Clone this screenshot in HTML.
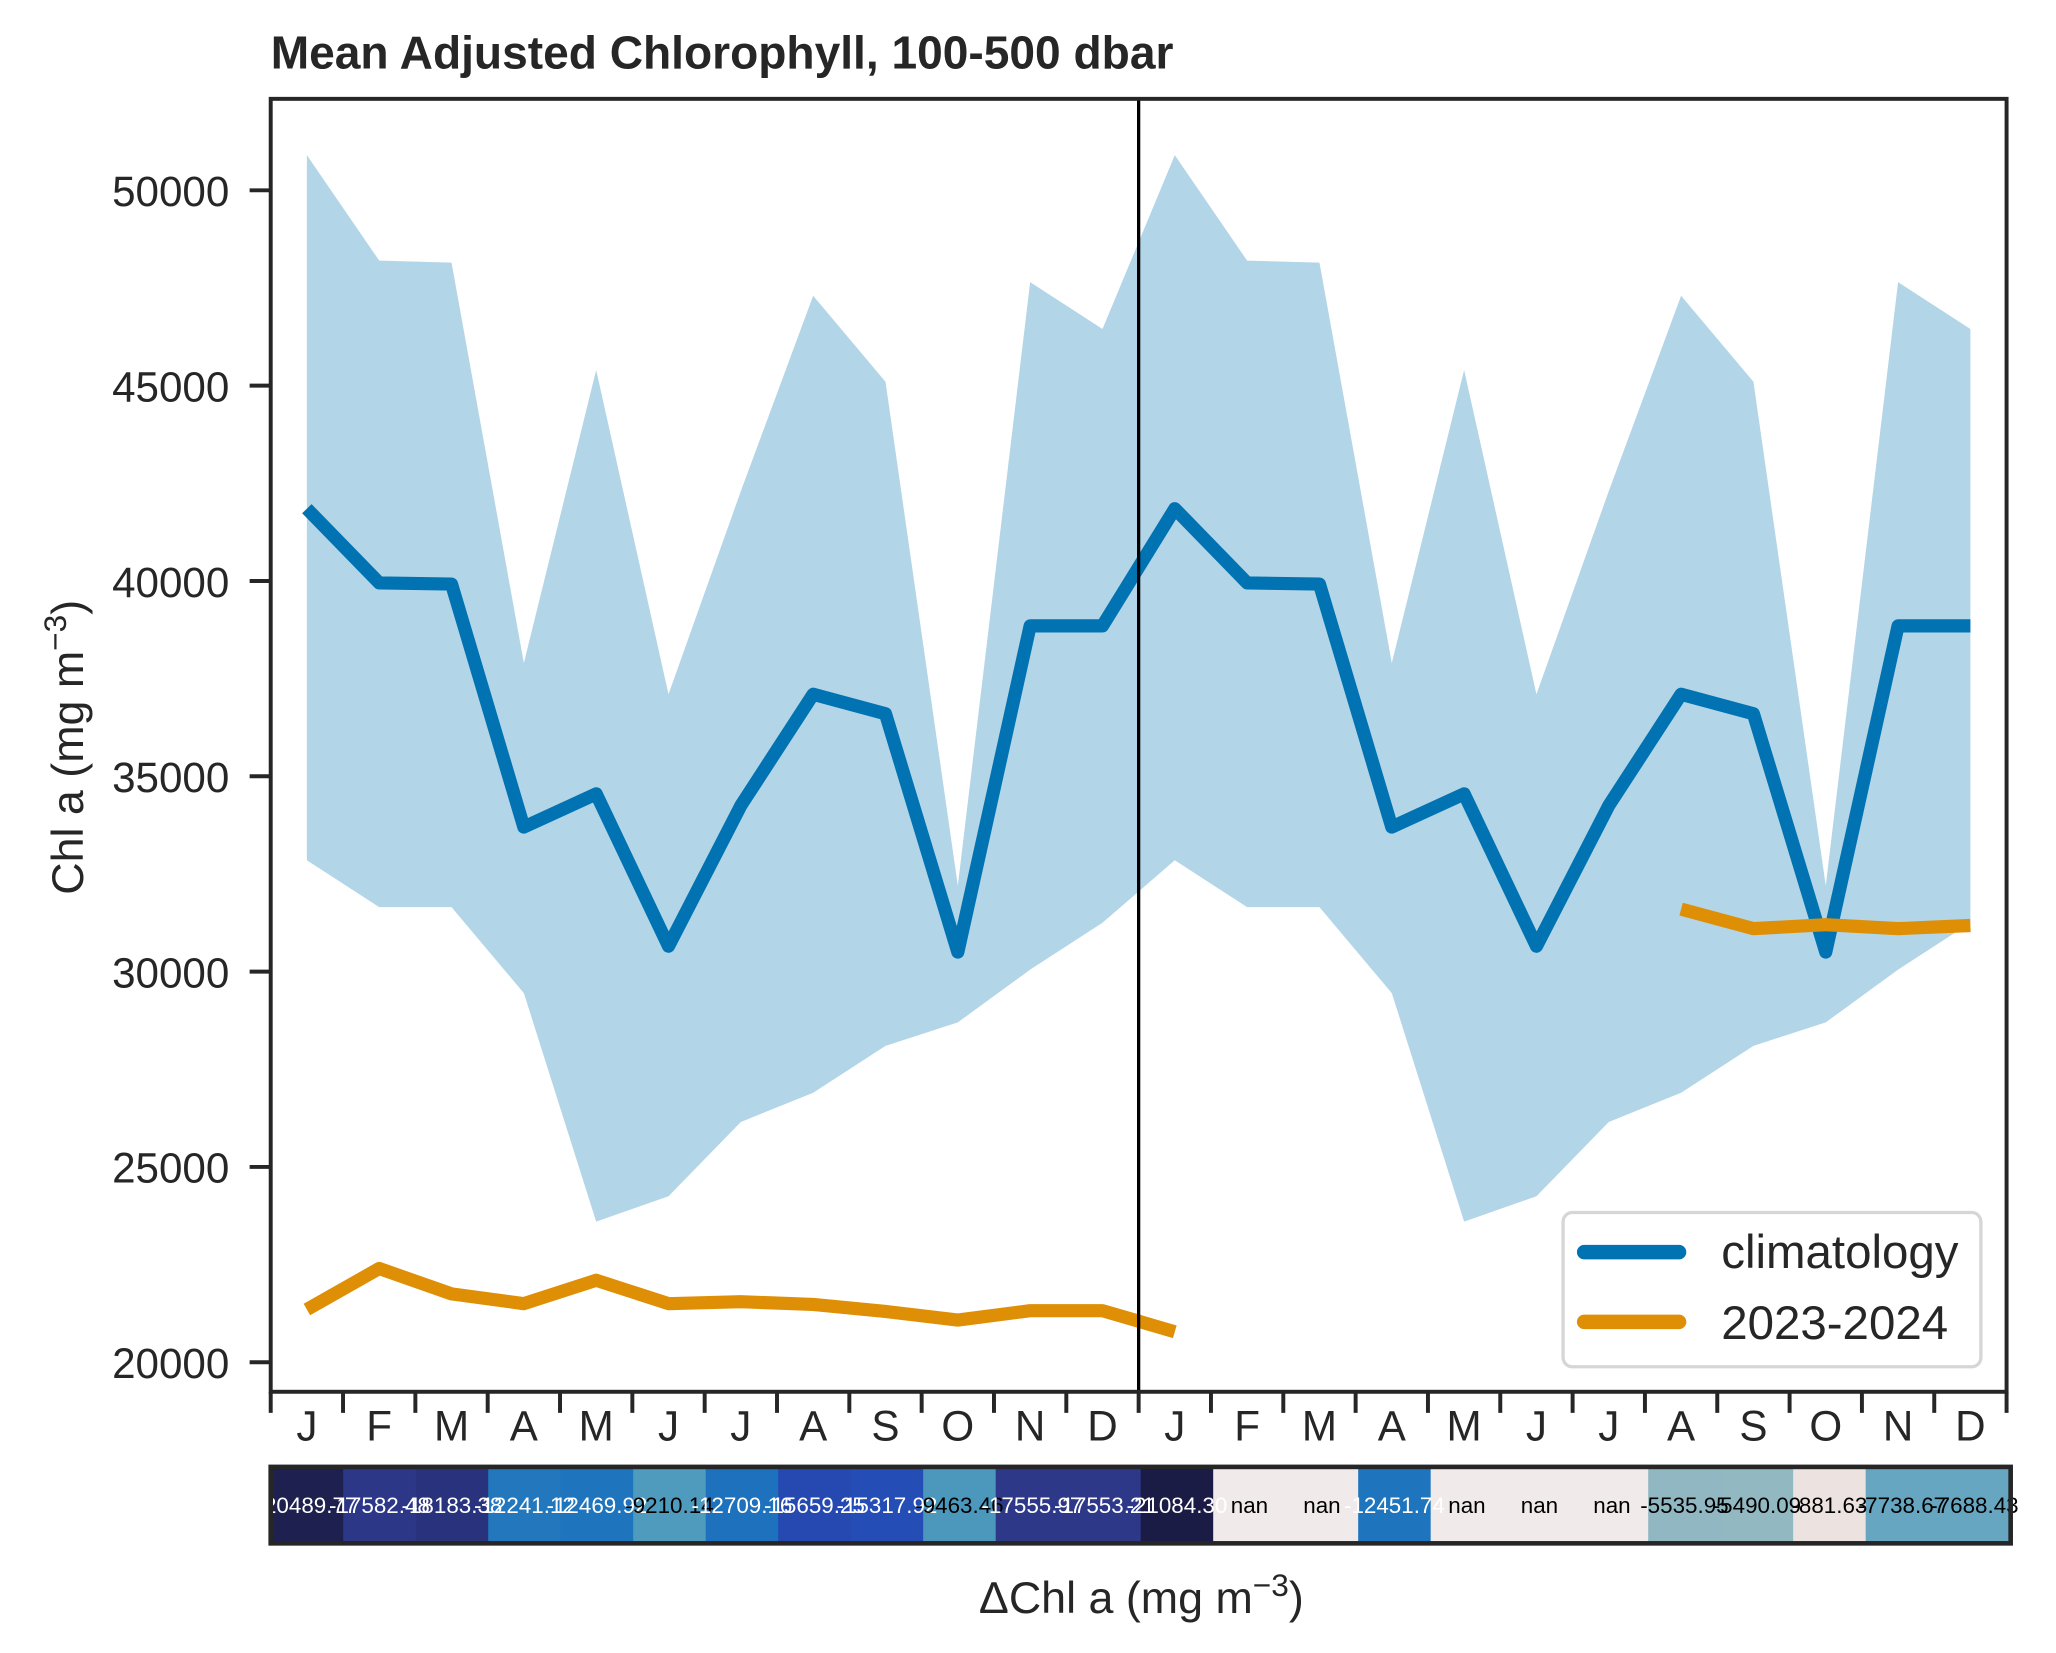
<!DOCTYPE html>
<html><head><meta charset="utf-8"><title>Mean Adjusted Chlorophyll</title>
<style>
html,body{margin:0;padding:0;background:#fff;}
svg{display:block;font-family:"Liberation Sans",Arial,sans-serif;}
</style></head>
<body>
<svg id="chart" xmlns="http://www.w3.org/2000/svg" width="2056" height="1653" viewBox="0 0 1560 1254.2" preserveAspectRatio="none">
<rect x="0" y="0" width="1560" height="1254.2" fill="#fff"/>
<g id="plot"></g>
</svg>
<script>
const months = ["J","F","M","A","M","J","J","A","S","O","N","D"];
const climMean = [41850,39950,39920,33700,34550,30650,34250,37100,36600,30500,38850,38850];
const climUpper = [50900,48200,48150,37900,45400,37100,42300,47300,45100,32200,47650,46450];
const climLower = [32850,31650,31650,29450,23600,24250,26150,26900,28100,28700,30050,31250];
const obs = [21350,22400,21750,21500,22100,21500,21550,21480,21300,21080,21320,21320,20780,null,null,null,null,null,null,31600,31100,31200,31100,31180];
const deltaVals = [-20489.77,-17582.48,-18183.38,-12241.12,-12469.92,-9210.14,-12709.16,-15659.25,-15317.92,-9463.46,-17555.97,-17553.21,-21084.30,null,null,-12451.74,null,null,null,-5535.95,-5490.09,-881.63,-7738.67,-7688.43];
const yTicks = [20000,25000,30000,35000,40000,45000,50000];

const NS="http://www.w3.org/2000/svg";
const L=205.4,R=1522.5,T=75,B=1056;
const N=24, cw=(R-L)/N;
function xs(i){return L+(i+0.5)*cw;}
function ys(v){return 1033.6-(v-20000)/5000*148.2;}
function el(tag,attrs,parent){const e=document.createElementNS(NS,tag);for(const k in attrs)e.setAttribute(k,attrs[k]);(parent||g).appendChild(e);return e;}
const g=document.getElementById('plot');

function colorFor(v){
  if(v===null) return "#f0eaea";
  const stops=[[-21000,[27,28,69]],[-17500,[45,56,138]],[-15500,[36,74,180]],[-12500,[30,116,189]],[-9300,[78,154,189]],[-7700,[103,166,192]],[-5500,[146,184,194]],[-900,[236,227,224]]];
  if(v<=stops[0][0]) return "rgb("+stops[0][1]+")";
  for(let i=1;i<stops.length;i++){ if(v<=stops[i][0]){const a=stops[i-1],b=stops[i];const t=(v-a[0])/(b[0]-a[0]);return "rgb("+a[1].map((c,j)=>Math.round(c+(b[1][j]-c)*t)).join(",")+")";}}
  return "rgb(236,227,224)";
}

const up=[],lo=[];
for(let i=0;i<N;i++){up.push([xs(i),ys(climUpper[i%12])]);lo.push([xs(i),ys(climLower[i%12])]);}
const band=el('polygon',{points:up.concat(lo.reverse()).map(p=>p.join(',')).join(' '),fill:"#b3d5e8"});



const cl=el('polyline',{points:climMean.concat(climMean).map((v,i)=>xs(i)+','+ys(v)).join(' '),fill:"none",stroke:"#0173b2","stroke-width":10,"stroke-linejoin":"round"});



let seg=[];
function flush(){ if(seg.length>1){const o=el('polyline',{points:seg.join(' '),fill:"none",stroke:"#de8f05","stroke-width":10,"stroke-linejoin":"round"});

} seg=[];}
obs.forEach((v,i)=>{ if(v===null) flush(); else seg.push(xs(i)+','+ys(v)); }); flush();

const vl=el('line',{x1:L+12*cw,x2:L+12*cw,y1:T,y2:B,stroke:"#000","stroke-width":2.5});



const fr=el('rect',{x:L,y:T,width:R-L,height:B-T,fill:"none",stroke:"#262626","stroke-width":3});



yTicks.forEach(v=>{
  const t=el('line',{x1:L-16,x2:L,y1:ys(v),y2:ys(v),stroke:"#262626","stroke-width":3});
  
  
  const tx=el('text',{x:174,y:ys(v)+12,"text-anchor":"end","font-size":32,fill:"#262626"});
  tx.textContent=v;
  
  
});
for(let i=0;i<=N;i++){
  const t=el('line',{x1:L+i*cw,x2:L+i*cw,y1:B,y2:B+16,stroke:"#262626","stroke-width":3});
  
  
}
for(let i=0;i<N;i++){
  const tx=el('text',{x:xs(i),y:1093,"text-anchor":"middle","font-size":32,fill:"#262626"});
  tx.textContent=months[i%12];
  
  
}

const HT=1113,HB=1171,HR=1525.6,hcw=(HR-L)/N;
for(let i=0;i<N;i++){
  const v=deltaVals[i];
  const r=el('rect',{x:L+i*hcw,y:HT,width:hcw+0.5,height:HB-HT,fill:colorFor(v)});
  
  
}
for(let i=0;i<N;i++){
  const v=deltaVals[i];
  const dark = v!==null && v< -11000;
  const tx=el('text',{x:L+(i+0.5)*hcw,y:(HT+HB)/2+6,"text-anchor":"middle","font-size":17,fill:dark?"#fff":"#000"});
  tx.textContent = v===null ? "nan" : v.toFixed(2);
  
  
}
const hf=el('rect',{x:L,y:HT,width:HR-L,height:HB-HT,fill:"none",stroke:"#262626","stroke-width":3.5});



const title=el('text',{x:L,y:52,"font-size":35,"font-weight":"bold",fill:"#262626"});
title.textContent="Mean Adjusted Chlorophyll, 100-500 dbar";



const yl=el('text',{x:0,y:0,"text-anchor":"middle","font-size":34,fill:"#262626",transform:"translate(63,567) rotate(-90)"});
yl.innerHTML='Chl a (mg m<tspan dy="-13" font-size="24">−3</tspan><tspan dy="13">)</tspan>';



const xl=el('text',{x:866,y:1224,"text-anchor":"middle","font-size":34,fill:"#262626"});
xl.innerHTML='ΔChl a (mg m<tspan dy="-13" font-size="24">−3</tspan><tspan dy="13">)</tspan>';



const lg=el('g',{});


el('rect',{x:1186,y:920,width:317,height:117,rx:7,fill:"#fff",stroke:"#d6d6d6","stroke-width":2.5},lg);
const entries=[["climatology","#0173b2",950,962],["2023-2024","#de8f05",1003,1016]];
entries.forEach(e=>{
  const l=el('line',{x1:1202,x2:1274,y1:e[2],y2:e[2],stroke:e[1],"stroke-width":11,"stroke-linecap":"round"},lg);
  
  
  const t=el('text',{x:1306,y:e[3],"font-size":36,fill:"#262626"},lg);
  t.textContent=e[0];
  
  
});
</script>
</body></html>
